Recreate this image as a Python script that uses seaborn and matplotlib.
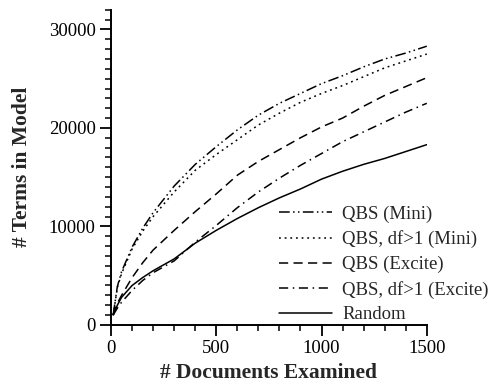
import matplotlib
matplotlib.use("Agg")
import matplotlib.pyplot as plt
from matplotlib.ticker import MultipleLocator
import numpy as np
import pandas as pd
import seaborn as sns

# Documents examined (x) and vocabulary size of each learned model (y)
docs = [10, 30, 50, 100, 150, 200, 300, 400, 500, 600, 700, 800, 900,
        1000, 1100, 1200, 1300, 1400, 1500]

qbs_mini = [1000, 3900, 5400, 7900, 9800, 11400, 14100, 16300, 18100, 19800,
            21300, 22500, 23500, 24500, 25300, 26200, 27000, 27600, 28300]
qbs_df_mini = [1000, 3800, 5200, 7700, 9500, 11000, 13500, 15700, 17300, 18800,
               20300, 21500, 22600, 23500, 24300, 25200, 26100, 26800, 27500]
qbs_excite = [1000, 2200, 3000, 4800, 6300, 7600, 9600, 11500, 13300, 15200,
              16600, 17800, 19000, 20100, 21000, 22200, 23300, 24200, 25100]
qbs_df_excite = [1000, 1700, 2300, 3500, 4500, 5300, 6500, 8400, 10100, 11900,
                 13500, 14900, 16200, 17400, 18600, 19600, 20600, 21600, 22500]
random_docs = [1000, 2000, 2800, 4000, 4800, 5500, 6700, 8300, 9600, 10800,
               11900, 12900, 13800, 14800, 15600, 16300, 16900, 17600, 18300]

series_names = ["QBS (Mini)", "QBS, df>1 (Mini)", "QBS (Excite)",
                "QBS, df>1 (Excite)", "Random"]
series_values = [qbs_mini, qbs_df_mini, qbs_excite, qbs_df_excite, random_docs]

df = pd.DataFrame({
    "docs": np.tile(docs, len(series_names)),
    "terms": np.concatenate(series_values),
    "series": np.repeat(series_names, len(docs)),
})

sns.set_theme(style="ticks")
plt.rcParams["font.family"] = ["Liberation Serif", "DejaVu Serif"]

fig = plt.figure(figsize=(4.98, 3.90), dpi=100)
ax = fig.add_axes([0.223, 0.167, 0.634, 0.808])

dash_styles = {
    "QBS (Mini)": (7, 2.2, 1, 2.2, 1, 2.2),
    "QBS, df>1 (Mini)": (1.2, 2.5),
    "QBS (Excite)": (6, 3.5),
    "QBS, df>1 (Excite)": (6, 3, 1, 3),
    "Random": "",
}
palette = {name: "black" for name in series_names}

sns.lineplot(data=df, x="docs", y="terms", hue="series", style="series",
             hue_order=series_names, style_order=series_names,
             palette=palette, dashes=dash_styles, linewidth=1.1, ax=ax)

ax.set_xlim(0, 1500)
ax.set_ylim(0, 32000)
ax.xaxis.set_major_locator(MultipleLocator(500))
ax.xaxis.set_minor_locator(MultipleLocator(100))
ax.yaxis.set_major_locator(MultipleLocator(10000))
ax.yaxis.set_minor_locator(MultipleLocator(1000))

for side in ("top", "right"):
    ax.spines[side].set_visible(False)
for side in ("left", "bottom"):
    ax.spines[side].set_linewidth(1.4)
    ax.spines[side].set_color("black")

ax.tick_params(which="major", direction="out", length=8, width=1.3,
               labelsize=13.5, colors="black", pad=3)
ax.tick_params(which="minor", direction="out", length=4, width=1.1,
               colors="black")

ax.set_xlabel("# Documents Examined", fontsize=15.5, fontweight="bold", labelpad=4)
ax.set_ylabel("# Terms in Model", fontsize=15.5, fontweight="bold", labelpad=12)

handles, labels = ax.get_legend_handles_labels()
leg = ax.legend(handles, labels, loc="lower right", frameon=False,
                fontsize=13.5, handlelength=2.8, handletextpad=0.55,
                labelspacing=0.4, borderaxespad=0.0, borderpad=0.0,
                bbox_to_anchor=(1.196, 0.005))

fig.savefig("out.png", dpi=100, facecolor="white")
